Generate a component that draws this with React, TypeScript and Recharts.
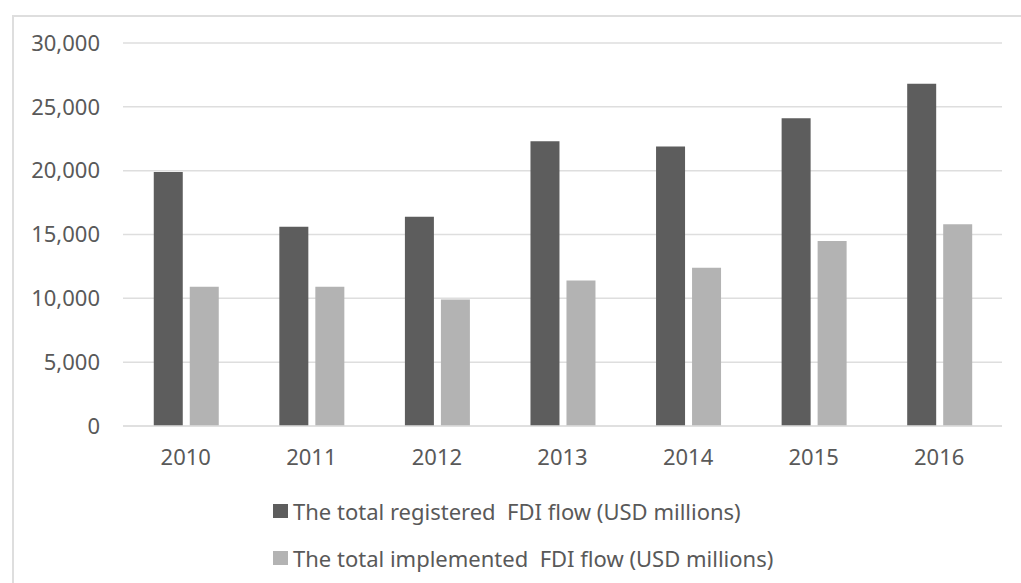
import { BarChart, Bar, XAxis, YAxis, CartesianGrid } from 'recharts';

// ─── Data ────────────────────────────────────────────────────────────────────

const YEARS = ['2010', '2011', '2012', '2013', '2014', '2015', '2016'];
const REGISTERED = [19900, 15600, 16400, 22300, 21900, 24100, 26800];
const IMPLEMENTED = [10900, 10900, 9900, 11400, 12400, 14500, 15800];
const Y_TICKS = [0, 5000, 10000, 15000, 20000, 25000, 30000];

const SERIES = [
  { key: 'registered', name: 'The total registered  FDI flow (USD millions)', color: '#5d5d5d' },
  { key: 'implemented', name: 'The total implemented  FDI flow (USD millions)', color: '#b3b3b3' },
];

const data = YEARS.map((year, i) => ({
  year,
  registered: REGISTERED[i],
  implemented: IMPLEMENTED[i],
}));

// ─── Styles ──────────────────────────────────────────────────────────────────

const FONT = '"Noto Sans", "Open Sans", sans-serif';
const TEXT = '#595959';
const GRID = '#dedede';
const TICK = { fontSize: 22, fill: TEXT, fontFamily: FONT };

const fmt = (v: number) => v.toLocaleString('en-US');

function FdiLegend() {
  return (
    <div style={{ position: 'absolute', left: 273, top: 487, fontFamily: FONT, fontSize: 22, color: TEXT }}>
      {SERIES.map((s) => (
        <div key={s.key} style={{ display: 'flex', alignItems: 'center', height: 47, whiteSpace: 'pre' }}>
          <span style={{ width: 15, height: 14, background: s.color, marginRight: 5, display: 'inline-block' }} />
          <span>{s.name}</span>
        </div>
      ))}
    </div>
  );
}

export default function App() {
  return (
    <div style={{ position: 'fixed', left: 0, top: 0, width: 1021, height: 583, background: '#fff', overflow: 'hidden' }}>
      <div
        style={{
          position: 'absolute', left: 12, top: 15, right: 0, bottom: 0,
          borderLeft: `2px solid ${GRID}`, borderTop: `2px solid ${GRID}`,
        }}
      />
      <BarChart
        width={1021}
        height={583}
        data={data}
        margin={{ top: 43, right: 19, left: 0, bottom: 0 }}
        barCategoryGap="24.5%"
        barGap={7}
        style={{ position: 'absolute', left: 0, top: 0 }}
      >
        <CartesianGrid vertical={false} stroke={GRID} strokeWidth={1.5} />
        <XAxis
          dataKey="year"
          tick={TICK}
          axisLine={{ stroke: GRID, strokeWidth: 1.5 }}
          tickLine={false}
          tickSize={0}
          tickMargin={23}
          height={157}
        />
        <YAxis
          width={123}
          domain={[0, 30000]}
          ticks={Y_TICKS}
          tickFormatter={fmt}
          tick={TICK}
          axisLine={false}
          tickLine={false}
          tickSize={0}
          tickMargin={23}
        />
        {SERIES.map((s) => (
          <Bar key={s.key} dataKey={s.key} name={s.name} fill={s.color} isAnimationActive={false} />
        ))}
      </BarChart>
      <FdiLegend />
    </div>
  );
}
